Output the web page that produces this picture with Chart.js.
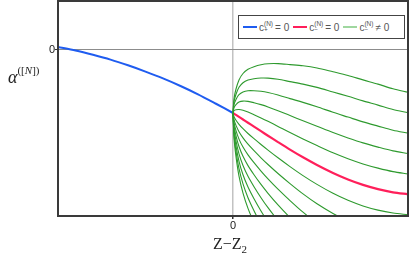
<!DOCTYPE html>
<html>
<head>
<meta charset="utf-8">
<script src="https://cdn.jsdelivr.net/npm/chart.js@4.4.1/dist/chart.umd.min.js"></script>
<style>
  html, body { margin: 0; padding: 0; background: #fff; }
  #wrap { position: relative; width: 409px; height: 256px; overflow: hidden; }
  canvas { display: block; }
  .ov { position: absolute; white-space: nowrap; color: #222; }
  #ytitle { left: 8px; top: 66px; font-family: "Liberation Serif", serif; font-size: 18px; }
  #ytitle i { font-style: italic; }
  #ytitle sup { font-size: 11px; position: relative; top: -2px; }
  #xtitle { left: 213px; top: 235px; font-family: "Liberation Serif", serif; font-size: 16px; }
  #xtitle sub { font-size: 11px; }
  #legend { left: 238px; top: 15px; width: 165px; height: 22px; border: 1.5px solid #444; background: #fff;
            font-family: "Liberation Sans", sans-serif; font-size: 10px; color: #555;
            display: flex; align-items: center; }
  .item { display: flex; align-items: center; margin-left: 4px; }
  .sw { display: inline-block; width: 14px; height: 2px; margin-right: 2px; }
  .ss { display: inline-flex; flex-direction: column; font-size: 6.5px; line-height: 6px; vertical-align: middle; margin-right: 2px; }
</style>
</head>
<body>
<div id="wrap">
  <canvas id="chart" width="409" height="256"></canvas>
  <div class="ov" id="ytitle"><i>α</i><sup>([<i>N</i>])</sup></div>
  <div class="ov" id="xtitle">Z−Z<sub>2</sub></div>
  <div class="ov" id="legend">
    <div class="item"><span class="sw" style="background:#1f5cf0"></span>c<span class="ss"><span>(N)</span><span>+</span></span>= 0</div>
    <div class="item"><span class="sw" style="background:#ff1f5a"></span>c<span class="ss"><span>(N)</span><span>−</span></span>= 0</div>
    <div class="item"><span class="sw" style="background:#9fd79f"></span>c<span class="ss"><span>(N)</span><span>−</span></span>≠ 0</div>
  </div>
</div>
<script>
// eixo horizontal: lado esquerdo (Z < Z2) e lado direito (Z > Z2)
const xLeft = [-1.75, -1.575, -1.4, -1.225, -1.05, -0.875, -0.7, -0.525, -0.35, -0.175, 0];
const xRight = [0, 0.01, 0.03, 0.06, 0.1, 0.15, 0.21, 0.28, 0.35, 0.45, 0.57, 0.7, 0.84, 1.0, 1.15, 1.3, 1.45, 1.6, 1.75];

// c+ = 0 (azul)
const yPlusZero = [0.03, -0.005, -0.048, -0.096, -0.153, -0.216, -0.284, -0.36, -0.443, -0.535, -0.63];
// c- = 0 (vermelho)
const yMinusZero = [-0.63, -0.6365, -0.6495, -0.669, -0.695, -0.7275, -0.7665, -0.812, -0.857, -0.921, -0.996, -1.073, -1.15, -1.23, -1.295, -1.349, -1.391, -1.423, -1.443];

// c- != 0 (verde), de cima para baixo
const green1 = [-0.63, -0.487, -0.39, -0.299, -0.235, -0.193, -0.167, -0.147, -0.137, -0.136, -0.146, -0.158, -0.18, -0.218, -0.255, -0.299, -0.341, -0.388, -0.423];
const green2 = [-0.63, -0.517, -0.442, -0.373, -0.327, -0.3, -0.287, -0.28, -0.281, -0.293, -0.316, -0.341, -0.374, -0.42, -0.463, -0.509, -0.551, -0.595, -0.627];
const green3 = [-0.63, -0.547, -0.494, -0.447, -0.419, -0.407, -0.407, -0.413, -0.425, -0.45, -0.486, -0.524, -0.568, -0.623, -0.671, -0.719, -0.761, -0.802, -0.831];
const green4 = [-0.63, -0.577, -0.546, -0.521, -0.511, -0.514, -0.527, -0.546, -0.569, -0.607, -0.656, -0.707, -0.762, -0.825, -0.879, -0.929, -0.971, -1.009, -1.035];
const green5 = [-0.63, -0.607, -0.598, -0.595, -0.603, -0.621, -0.647, -0.679, -0.713, -0.764, -0.826, -0.89, -0.956, -1.028, -1.087, -1.139, -1.181, -1.216, -1.239];
const green6 = [-0.63, -0.667, -0.702, -0.743, -0.787, -0.835, -0.887, -0.945, -1.001, -1.078, -1.166, -1.256, -1.344, -1.433, -1.503, -1.559, -1.601, -1.63, -1.647];
const green7 = [-0.63, -0.697, -0.754, -0.817, -0.879, -0.942, -1.007, -1.078, -1.145, -1.235, -1.336, -1.439, -1.538, -1.635, -1.711, -1.769];
const green8 = [-0.63, -0.727, -0.806, -0.891, -0.971, -1.049, -1.127, -1.211, -1.289, -1.392, -1.506, -1.622, -1.732, -1.838];
const green9 = [-0.63, -0.757, -0.858, -0.965, -1.063, -1.156, -1.247, -1.344, -1.433, -1.549, -1.676, -1.805];
const green10 = [-0.63, -0.787, -0.91, -1.039, -1.155, -1.263, -1.367, -1.477, -1.577, -1.706, -1.846];
const green11 = [-0.63, -0.817, -0.962, -1.113, -1.247, -1.37, -1.487, -1.61, -1.721, -1.863];
const green12 = [-0.63, -0.847, -1.014, -1.187, -1.339, -1.477, -1.607, -1.743, -1.865];
const green13 = [-0.63, -0.877, -1.066, -1.261, -1.431, -1.584, -1.727, -1.876];
const greenCurves = [green1, green2, green3, green4, green5, green6, green7, green8, green9, green10, green11, green12, green13];

const tickValues = [0];

function pts(xs, ys) {
    return ys.map((y, i) => ({ x: xs[i], y: y }));
}

function lineSet(data, color, width) {
    return {
        data: data,
        borderColor: color,
        borderWidth: width,
        pointRadius: 0,
        showLine: true,
        fill: false,
        tension: 0.3
    };
}

const datasets = [];
greenCurves.forEach(ys => datasets.push(lineSet(pts(xRight, ys), '#2e9a2e', 1.1)));
datasets.push(lineSet(pts(xRight, yMinusZero), '#ff1f5a', 2.2));
datasets.push(lineSet(pts(xLeft, yPlusZero), '#1f5cf0', 2));

// moldura em volta da área do gráfico
const framePlugin = {
    id: 'frame',
    afterDatasetsDraw(chart) {
        const { ctx, chartArea: a } = chart;
        ctx.save();
        ctx.strokeStyle = '#3a3a3a';
        ctx.lineWidth = 2;
        ctx.strokeRect(a.left, a.top, a.right - a.left, a.bottom - a.top);
        ctx.restore();
    }
};

function noPad(s) {
    s.paddingTop = 0;
    s.paddingBottom = 0;
    s.paddingLeft = 0;
    s.paddingRight = 0;
}

new Chart(document.getElementById('chart'), {
    type: 'scatter',
    data: { datasets: datasets },
    plugins: [framePlugin],
    options: {
        responsive: false,
        animation: false,
        events: [],
        layout: { padding: { top: 1, right: 1, left: 0, bottom: 0 } },
        plugins: { legend: { display: false }, tooltip: { enabled: false } },
        scales: {
            x: {
                type: 'linear',
                min: -1.75,
                max: 1.75,
                afterBuildTicks: s => { s.ticks = tickValues.map(v => ({ value: v })); },
                afterFit: s => { s.height = 40; noPad(s); },
                ticks: { color: '#222', font: { family: 'Liberation Sans', size: 11 }, padding: 0, maxRotation: 0 },
                grid: { color: '#c2c2c2', lineWidth: 1.5, tickLength: 3, tickColor: '#333' },
                border: { display: false }
            },
            y: {
                type: 'linear',
                min: -1.66,
                max: 0.49,
                afterBuildTicks: s => { s.ticks = tickValues.map(v => ({ value: v })); },
                afterFit: s => { s.width = 58; noPad(s); },
                ticks: { color: '#222', font: { family: 'Liberation Sans', size: 11 }, padding: 0 },
                grid: { color: '#8c8c8c', lineWidth: 1, tickLength: 3, tickColor: '#333' },
                border: { display: false }
            }
        }
    }
});
</script>
</body>
</html>
